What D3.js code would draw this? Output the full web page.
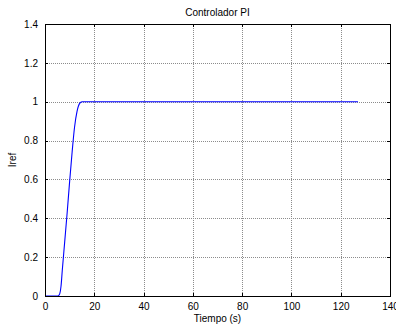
<!DOCTYPE html>
<html lang="es">
<head>
<meta charset="UTF-8">
<title>Controlador PI</title>
<script src="https://d3js.org/d3.v7.min.js"></script>
<style>
    body { margin: 0; background: #fff; }
    svg text { font-family: "Liberation Sans", Arial, sans-serif; font-size: 10px; fill: #000; }
    .grid line { stroke: #8c8c8c; stroke-dasharray: 1,1; shape-rendering: crispEdges; }
    .axis path, .axis line { shape-rendering: crispEdges; }
</style>
</head>
<body>
<svg width="396" height="327"></svg>
<script>
    // datos
    const tiempo = [0, 5, 5.5, 6, 6.5, 7, 8, 9, 10, 11, 12, 13, 14, 15, 16, 127];
    const iref   = [0, 0, 0.002, 0.012, 0.05, 0.13, 0.28, 0.43, 0.59, 0.74, 0.87, 0.95, 0.99, 1.0, 1.0, 1.0];
    const xTicks = [0, 20, 40, 60, 80, 100, 120, 140];
    const yTicks = [0, 0.2, 0.4, 0.6, 0.8, 1, 1.2, 1.4];

    const margin = { left: 45, right: 6, top: 24, bottom: 31 };
    const width = 396, height = 327;
    const svg = d3.select("svg");

    const x = d3.scaleLinear().domain([0, 140]).range([margin.left, width - margin.right]);
    const y = d3.scaleLinear().domain([0, 1.4]).range([height - margin.bottom, margin.top]);

    // rejilla
    const grid = svg.append("g").attr("class", "grid");
    grid.selectAll(".gx").data(xTicks.slice(1, -1)).enter().append("line")
        .attr("x1", d => Math.round(x(d)) + 0.5).attr("x2", d => Math.round(x(d)) + 0.5)
        .attr("y1", y(1.4)).attr("y2", y(0));
    grid.selectAll(".gy").data(yTicks.slice(1, -1)).enter().append("line")
        .attr("y1", d => Math.round(y(d)) + 0.5).attr("y2", d => Math.round(y(d)) + 0.5)
        .attr("x1", x(0)).attr("x2", x(140));

    // curva
    const pts = tiempo.map((t, i) => [t, iref[i]]);
    svg.append("path")
        .datum(pts)
        .attr("fill", "none")
        .attr("stroke", "#0000ff")
        .attr("stroke-width", 1.1)
        .attr("d", d3.line().x(d => x(d[0])).y(d => y(d[1])).curve(d3.curveMonotoneX));

    // ejes con marcas hacia dentro
    const ax = (gen, tr) => svg.append("g").attr("class", "axis").attr("transform", tr).call(gen);
    ax(d3.axisBottom(x).tickValues(xTicks).tickSize(-3).tickPadding(7).tickFormat(d3.format("d")), `translate(0,${y(0)})`);
    ax(d3.axisTop(x).tickValues(xTicks).tickSize(-3).tickFormat(""), `translate(0,${y(1.4)})`);
    ax(d3.axisLeft(y).tickValues(yTicks).tickSize(-3).tickPadding(7).tickFormat(d => d3.format("~g")(d)), `translate(${x(0)},0)`);
    ax(d3.axisRight(y).tickValues(yTicks).tickSize(-3).tickFormat(""), `translate(${x(140)},0)`);
    svg.selectAll(".axis text").attr("font-size", 10).attr("font-family", "Liberation Sans, Arial, sans-serif");
    svg.selectAll(".axis path").attr("stroke-width", 1.3);

    // titulos
    svg.append("text").attr("x", (x(0) + x(140)) / 2).attr("y", 16)
        .attr("text-anchor", "middle").text("Controlador PI");
    svg.append("text").attr("x", (x(0) + x(140)) / 2).attr("y", 322)
        .attr("text-anchor", "middle").text("Tiempo (s)");
    svg.append("text").attr("transform", `translate(16,${(y(0) + y(1.4)) / 2}) rotate(-90)`)
        .attr("text-anchor", "middle").text("Iref");
</script>
</body>
</html>
